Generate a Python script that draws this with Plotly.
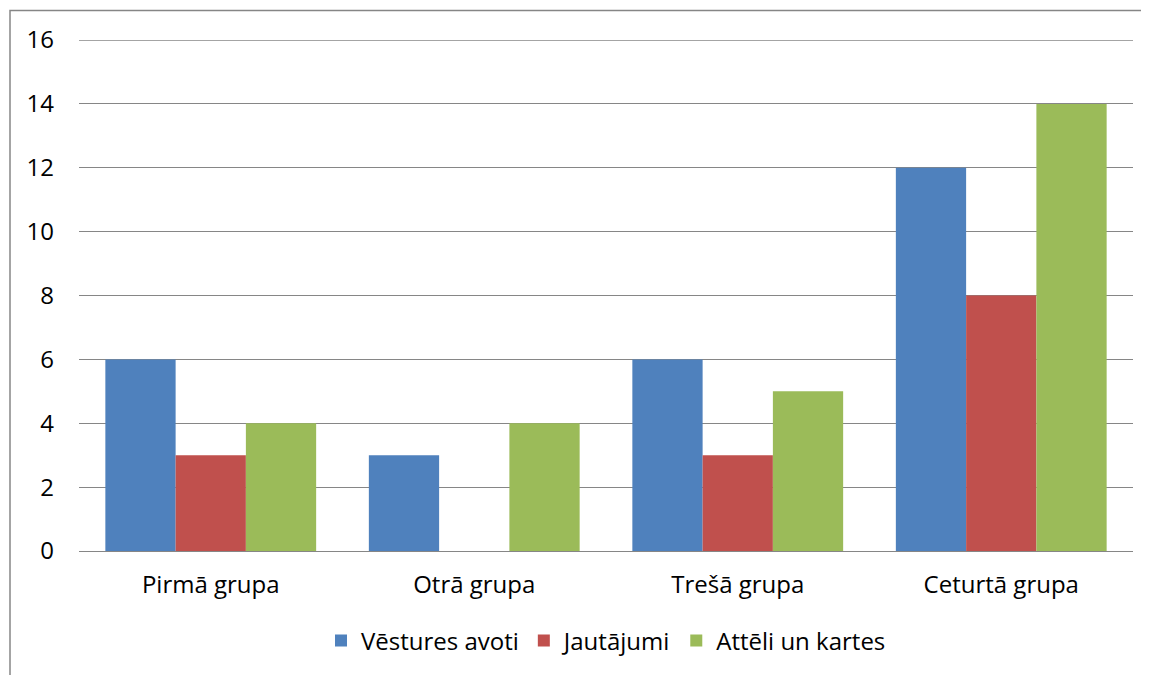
import plotly.graph_objects as go

categories = ["Pirmā grupa", "Otrā grupa", "Trešā grupa", "Ceturtā grupa"]
vestures_avoti = [6, 3, 6, 12]
jautajumi = [3, 0, 3, 8]
atteli_un_kartes = [4, 4, 5, 14]
y_ticks = [0, 2, 4, 6, 8, 10, 12, 14, 16]

series = [
    ("Vēstures avoti", vestures_avoti, "#4F81BD"),
    ("Jautājumi", jautajumi, "#C0504D"),
    ("Attēli un kartes", atteli_un_kartes, "#9BBB59"),
]

fig = go.Figure()
for name, vals, color in series:
    fig.add_trace(go.Bar(x=categories, y=vals, name=name, marker_color=color,
                         marker_line_width=0))

OFF = 8  # page body margin
W, H = 1149 - OFF, 675 - OFF
L, R, T, B = 79 - OFF, 16, 40 - OFF, 124
pw = W - L - R
ph = H - T - B

fig.update_layout(
    width=W, height=H,
    margin=dict(l=L, r=R, t=T, b=B),
    paper_bgcolor="white", plot_bgcolor="white",
    barmode="group", bargap=0.2, bargroupgap=0,
    font=dict(family="Open Sans, Noto Sans, sans-serif", size=24, color="#000000"),
    legend=dict(orientation="h", x=0.5, xanchor="center",
                y=-(641 - 551) / ph, yanchor="middle",
                font=dict(size=24), itemwidth=30, traceorder="normal"),
    xaxis=dict(showgrid=False, showline=False, ticks="", ticklabelstandoff=17),
    yaxis=dict(range=[0, 16], tickvals=y_ticks, showgrid=True,
               gridcolor="#868686", gridwidth=1.3, zeroline=True,
               zerolinecolor="#868686", zerolinewidth=1.3,
               showline=False, ticks="", ticklabelstandoff=24),
    showlegend=True,
)

# top gridline (plotly drops the gridline that sits on the plot edge)
fig.add_shape(type="line", xref="paper", yref="y",
              x0=0, x1=1, y0=y_ticks[-1], y1=y_ticks[-1],
              line=dict(color="#868686", width=1.3), layer="below")

fig.add_shape(type="rect", xref="paper", yref="paper",
              x0=(10 - OFF - L) / pw, x1=(W + 20 - L) / pw,
              y0=-(H + 20 - T - ph) / ph, y1=(T + ph - (10.5 - OFF)) / ph,
              line=dict(color="#868686", width=1.5), layer="below")

fig.write_html("out.html")
